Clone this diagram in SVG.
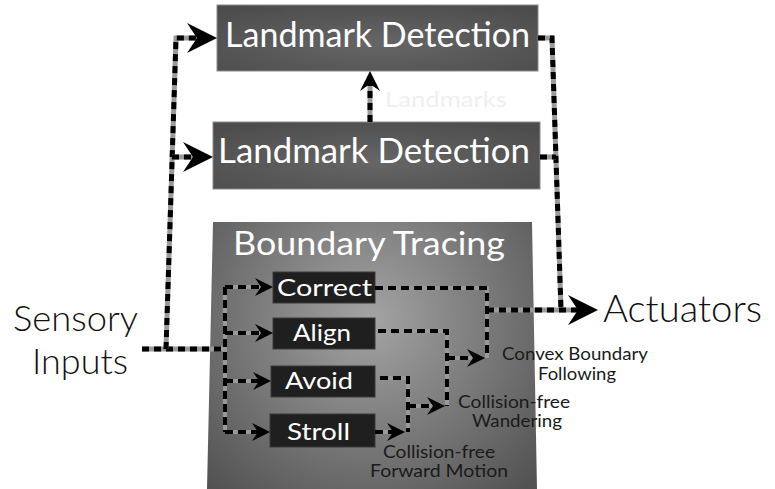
<svg xmlns="http://www.w3.org/2000/svg" width="775" height="489" viewBox="0 0 775 489">
<defs>
<style>
.bg{fill:#fff}
.lm{fill:url(#gLm);stroke:#8a8a8a;stroke-width:1}
.bt{fill:url(#gBt)}
.ib{fill:#1f1f1f;stroke:#3a3a3a;stroke-width:1}
.wt{fill:#fff;font-family:Lato,"Open Sans","DejaVu Sans",sans-serif}
.bk{fill:#111;font-family:Lato,"Open Sans","DejaVu Sans",sans-serif}
.sm{fill:#1a1a1a;font-family:Lato,"Open Sans","DejaVu Sans",sans-serif;font-size:17px}
.base{fill:none;stroke:#9a9a9a;stroke-width:5;stroke-linejoin:miter}
.dash{fill:none;stroke:#000;stroke-width:5;stroke-dasharray:7 5}
.baseS{fill:none;stroke:#9a9a9a;stroke-width:4}
.dashS{fill:none;stroke:#000;stroke-width:4;stroke-dasharray:8 5}
</style>
<radialGradient id="gLm" cx="0.5" cy="0.6" r="0.7">
<stop offset="0" stop-color="#666"/>
<stop offset="1" stop-color="#4c4c4c"/>
</radialGradient>
<radialGradient id="gBt" gradientUnits="userSpaceOnUse" cx="370" cy="320" r="230">
<stop offset="0" stop-color="#a4a4a4"/>
<stop offset="1" stop-color="#525252"/>
</radialGradient>
<marker id="aBig" viewBox="-30 -15 30 30" markerWidth="30" markerHeight="30" refX="-18" refY="0" orient="auto" markerUnits="userSpaceOnUse">
<path d="M0 0 L-30 -15 L-20 0 L-30 15 Z" fill="#000"/>
</marker>
<marker id="aMid" viewBox="-20 -10 20 20" markerWidth="20" markerHeight="20" refX="-12" refY="0" orient="auto" markerUnits="userSpaceOnUse">
<path d="M0 0 L-20 -10 L-13 0 L-20 10 Z" fill="#000"/>
</marker>
<marker id="aSm" viewBox="-18 -9 18 18" markerWidth="18" markerHeight="18" refX="-11" refY="0" orient="auto" markerUnits="userSpaceOnUse">
<path d="M0 0 L-18 -9 L-12 0 L-18 9 Z" fill="#000"/>
</marker>
</defs>
<rect class="bg" x="0" y="0" width="775" height="489"/>

<g id="boundary-tracing">
<polygon class="bt" points="213,222 532,222 537,489 207,489"/>
<text class="wt" x="233" y="255" font-size="32" textLength="272" lengthAdjust="spacingAndGlyphs">Boundary Tracing</text>
</g>

<g id="landmark-detection-top">
<rect class="lm" x="217" y="5" width="321" height="66"/>
<text class="wt" x="225" y="47" font-size="34" textLength="305" lengthAdjust="spacingAndGlyphs">Landmark Detection</text>
</g>

<g id="landmark-detection">
<rect class="lm" x="213" y="122" width="327" height="67"/>
<text class="wt" x="218" y="163" font-size="34" textLength="312" lengthAdjust="spacingAndGlyphs">Landmark Detection</text>
</g>

<g id="correct">
<rect class="ib" x="273" y="272" width="102" height="31"/>
<text class="wt" x="277" y="296" font-size="24" textLength="95" lengthAdjust="spacingAndGlyphs">Correct</text>
</g>
<g id="align">
<rect class="ib" x="273" y="318" width="102" height="31"/>
<text class="wt" x="293" y="341" font-size="24" textLength="58" lengthAdjust="spacingAndGlyphs">Align</text>
</g>
<g id="avoid">
<rect class="ib" x="271" y="366" width="104" height="31"/>
<text class="wt" x="285" y="389" font-size="24" textLength="68" lengthAdjust="spacingAndGlyphs">Avoid</text>
</g>
<g id="stroll">
<rect class="ib" x="270" y="414" width="105" height="33"/>
<text class="wt" x="287" y="440" font-size="24" textLength="63" lengthAdjust="spacingAndGlyphs">Stroll</text>
</g>

<g id="sensory-inputs">
<text class="bk" x="13" y="331" font-size="35" font-weight="300" textLength="125" lengthAdjust="spacingAndGlyphs">Sensory</text>
<text class="bk" x="32" y="374" font-size="35" font-weight="300" textLength="96" lengthAdjust="spacingAndGlyphs">Inputs</text>
</g>
<g id="actuators">
<text class="bk" x="603" y="322" font-size="38" font-weight="300" textLength="159" lengthAdjust="spacingAndGlyphs">Actuators</text>
</g>

<g id="connectors">
<g id="main">
<path class="base" d="M142 349 H225"/>
<path class="dash" d="M142 349 H225"/>
<path class="base" d="M166 349 L176 38 H199"/>
<path class="dash" d="M166 349 L176 38 H199" marker-end="url(#aBig)"/>
<path class="base" d="M172 157 H195"/>
<path class="dash" d="M172 157 H195" marker-end="url(#aBig)"/>
<path class="base" d="M538 38 H552 L561 310"/>
<path class="dash" d="M538 38 H552 L561 310"/>
<path class="base" d="M540 157 H556"/>
<path class="dash" d="M540 157 H556"/>
<path class="base" d="M487 310 H580"/>
<path class="dash" d="M487 310 H580" marker-end="url(#aBig)"/>
<path class="base" d="M370 122 V83"/>
<path class="dash" d="M370 122 V83" marker-end="url(#aMid)"/>
</g>
<g id="inner">
<path class="baseS" d="M225 287 V432"/>
<path class="dashS" d="M225 287 V432"/>
<path class="baseS" d="M225 287 H262"/>
<path class="dashS" d="M225 287 H262" marker-end="url(#aSm)"/>
<path class="baseS" d="M225 333 H262"/>
<path class="dashS" d="M225 333 H262" marker-end="url(#aSm)"/>
<path class="baseS" d="M225 381 H260"/>
<path class="dashS" d="M225 381 H260" marker-end="url(#aSm)"/>
<path class="baseS" d="M225 432 H259"/>
<path class="dashS" d="M225 432 H259" marker-end="url(#aSm)"/>
<path class="baseS" d="M375 288 H487 V358"/>
<path class="dashS" d="M375 288 H487 V358"/>
<path class="baseS" d="M378 331 H447 V406"/>
<path class="dashS" d="M378 331 H447 V406"/>
<path class="baseS" d="M447 358 H474"/>
<path class="dashS" d="M447 358 H474" marker-end="url(#aSm)"/>
<path class="baseS" d="M380 378 H408 V432"/>
<path class="dashS" d="M380 378 H408 V432"/>
<path class="baseS" d="M408 406 H434"/>
<path class="dashS" d="M408 406 H434" marker-end="url(#aSm)"/>
<path class="baseS" d="M375 432 H394"/>
<path class="dashS" d="M375 432 H394" marker-end="url(#aSm)"/>
</g>
</g>

<g id="labels">
<text x="385" y="107" font-size="22" fill="#efefef" font-family="Lato,'Open Sans',sans-serif" textLength="122" lengthAdjust="spacingAndGlyphs">Landmarks</text>
<text class="sm" x="502" y="360" textLength="146" lengthAdjust="spacingAndGlyphs">Convex Boundary</text>
<text class="sm" x="538" y="380" textLength="78" lengthAdjust="spacingAndGlyphs">Following</text>
<text class="sm" x="458" y="408" textLength="112" lengthAdjust="spacingAndGlyphs">Collision-free</text>
<text class="sm" x="472" y="427" textLength="90" lengthAdjust="spacingAndGlyphs">Wandering</text>
<text class="sm" x="383" y="458" textLength="112" lengthAdjust="spacingAndGlyphs">Collision-free</text>
<text class="sm" x="370" y="477" textLength="138" lengthAdjust="spacingAndGlyphs">Forward Motion</text>
</g>
</svg>
